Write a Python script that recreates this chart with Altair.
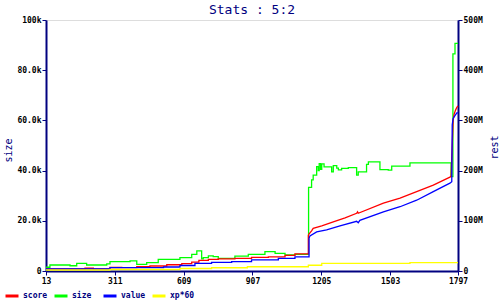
import altair as alt
import pandas as pd

# ---- data ----
x_ticks = [13, 311, 609, 907, 1205, 1503, 1797]

size_x = [13, 30, 117, 146, 189, 276, 290, 377, 406, 449, 499, 593, 644, 666, 687, 694, 716, 737, 759, 831,
          889, 961, 1005, 1048, 1091, 1150, 1163, 1170, 1185, 1192, 1196, 1202, 1207, 1217, 1250, 1257, 1272,
          1279, 1293, 1322, 1358, 1365, 1401, 1409, 1459, 1495, 1510, 1589, 1767, 1775, 1784, 1797]
size_v = [1500, 2400, 2100, 3000, 2400, 2800, 3700, 4000, 2600, 3300, 4600, 5300, 6600, 8000, 4800, 5300, 6000,
          5700, 5000, 5900, 6600, 7700, 7000, 6400, 6600, 33300, 36300, 38200, 41600, 40000, 42800, 40500, 42700,
          41500, 39500, 42000, 41000, 40300, 40900, 41200, 38200, 39500, 42500, 43500, 40400, 40200, 41800, 43100,
          37600, 86500, 90700, 90700]

score_x = [13, 182, 218, 290, 341, 406, 463, 536, 601, 644, 675, 716, 759, 831, 903, 976, 1048, 1091, 1149, 1163,
           1170, 1207, 1257, 1308, 1358, 1362, 1365, 1474, 1546, 1618, 1690, 1762, 1767, 1776, 1780, 1786, 1792, 1797]
score_m = [4, 5.5, 4.2, 7, 6.6, 8.5, 10, 12.5, 14.5, 17.5, 21, 23, 24, 25, 27, 28, 31, 34, 72, 80, 85, 90, 98, 106,
           115, 118, 115, 135, 145, 158, 171, 187, 189, 300, 312, 320, 326, 329]

value_x = [13, 290, 522, 593, 658, 730, 817, 903, 1019, 1091, 1152, 1156, 1185, 1228, 1286, 1358, 1365, 1372, 1474,
           1546, 1618, 1690, 1762, 1770, 1772, 1776, 1786, 1792, 1797]
value_m = [4, 6.6, 8, 11, 15, 17, 18.5, 22, 25, 28, 65, 70, 78, 82, 90, 99, 96, 101, 118, 128, 141, 158, 175, 178,
           291, 304, 311, 315, 315]

xp_x = [13, 290, 593, 730, 885, 1149, 1207, 1589, 1797]
xp_m = [2, 3, 5, 6.5, 8.5, 11.5, 15, 16.7, 16.7]

# x where score / value leave their stepped part and start their steady climb
score_ramp_start = 1149
value_ramp_start = 1152

series_names = ["score", "size", "value", "xp*60"]
series_colors = ["#ff0000", "#00ff00", "#0000ff", "#ffff00"]

size_df = pd.DataFrame({"x": size_x, "v": size_v, "series": "size"})
score_df = pd.DataFrame({"x": score_x, "v": [m * 1e6 for m in score_m], "series": "score"})
value_df = pd.DataFrame({"x": value_x, "v": [m * 1e6 for m in value_m], "series": "value"})
xp_df = pd.DataFrame({"x": xp_x, "v": [m * 1e6 for m in xp_m], "series": "xp*60"})

FONT = "DejaVu Sans Mono"
NAVY = "#000080"
LW = 1.3

xenc = alt.X("x:Q", scale=alt.Scale(domain=[13, 1797], nice=False, zero=False),
             axis=alt.Axis(values=x_ticks, format="d", title=None, grid=False, domainColor=NAVY,
                           tickColor=NAVY, tickSize=4, labelColor="black", labelFont=FONT, labelFontSize=8,
                           labelFontWeight="bold", labelPadding=2, labelFlush=False, domainWidth=2))

color = alt.Color("series:N",
                  scale=alt.Scale(domain=series_names, range=series_colors),
                  legend=alt.Legend(title=None, orient="none", legendX=-42, legendY=268,
                                    direction="horizontal", columns=4, gridAlign="all",
                                    symbolType="stroke", symbolSize=169, symbolStrokeWidth=3,
                                    labelColor=NAVY, labelFont=FONT, labelFontSize=8, labelFontWeight="bold",
                                    labelOffset=3, columnPadding=0, padding=0))

left_axis = alt.Axis(orient="left", values=[0, 20000, 40000, 60000, 80000, 100000], title="size",
                     grid=False, domainColor=NAVY, tickColor=NAVY, tickSize=4, domainWidth=2,
                     labelColor="black", labelFont=FONT, labelFontSize=8, labelFontWeight="bold", labelPadding=1,
                     labelExpr="datum.value == 0 ? '0' : datum.value == 100000 ? '100k' : format(datum.value/1000, '.1f') + 'k'",
                     titleColor=NAVY, titleFont=FONT, titleFontSize=10, titleFontWeight="normal",
                     titleAngle=270, titleX=-38, titleY=130, titleAlign="center", titleBaseline="middle")

right_axis = alt.Axis(orient="right", values=[0, 1e8, 2e8, 3e8, 4e8, 5e8], title="rest",
                      grid=False, domainColor=NAVY, tickColor=NAVY, tickSize=4, domainWidth=2,
                      labelColor="black", labelFont=FONT, labelFontSize=8, labelFontWeight="bold", labelPadding=1,
                      labelExpr="datum.value == 0 ? '0' : format(datum.value/1e6, 'd') + 'M'",
                      titleColor=NAVY, titleFont=FONT, titleFontSize=10, titleFontWeight="normal",
                      titleAngle=270, titleX=36, titleY=127, titleAlign="center", titleBaseline="middle")

left = alt.Chart(size_df).mark_line(interpolate="step-after", strokeWidth=LW).encode(
    x=xenc,
    y=alt.Y("v:Q", scale=alt.Scale(domain=[0, 100000], nice=False), axis=left_axis),
    color=color,
)

yr = alt.Y("v:Q", scale=alt.Scale(domain=[0, 5e8], nice=False), axis=right_axis)

def stepped(df, upto):
    return alt.Chart(df).transform_filter(alt.datum.x <= upto).mark_line(
        interpolate="step-after", strokeWidth=LW).encode(x=xenc, y=yr, color=color)

def ramp(df, start):
    return alt.Chart(df).transform_filter(alt.datum.x >= start).mark_line(
        interpolate="linear", strokeWidth=LW).encode(x=xenc, y=yr, color=color)

right = alt.layer(
    stepped(score_df, score_ramp_start), ramp(score_df, score_ramp_start),
    stepped(value_df, value_ramp_start), ramp(value_df, value_ramp_start),
    alt.Chart(xp_df).mark_line(interpolate="step-after", strokeWidth=LW).encode(x=xenc, y=yr, color=color),
)

chart = alt.layer(left, right).resolve_scale(y="independent").properties(
    width=412, height=251,
    autosize=alt.AutoSizeParams(type="none"),
    padding={"left": 46, "top": 20, "right": 42, "bottom": 29},
    title=alt.TitleParams("Stats : 5:2", font=FONT, fontSize=13, fontWeight="normal", color=NAVY,
                          anchor="middle", offset=2, dy=3),
).configure_view(stroke=None).configure(background="white")

chart.save("out.html", embed_options={"renderer": "svg", "actions": False})
